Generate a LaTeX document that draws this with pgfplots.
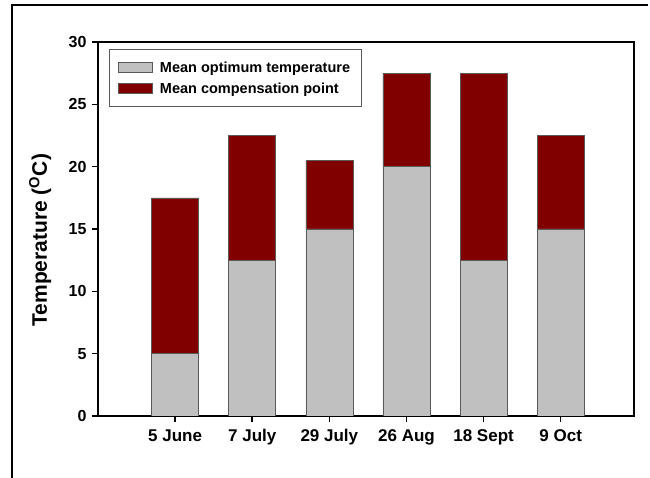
\documentclass[border=0pt]{standalone}
\usepackage{fontspec}
\setmainfont{Liberation Sans}
\usepackage{pgfplots}
\pgfplotsset{compat=1.18}
\definecolor{optgray}{RGB}{192,192,192}
\definecolor{compred}{RGB}{128,0,0}
\definecolor{edgegray}{RGB}{90,90,90}
\begin{document}
\begin{tikzpicture}
\begin{axis}[
  name=ax,
  scale only axis, width=536pt, height=374pt,
  ybar stacked, bar width=47pt,
  xmin=-1.0, xmax=5.95, ymin=0, ymax=30,
  xtick=data,
  xticklabels={5 June,7 July,29 July,26 Aug,18 Sept,9 Oct},
  ytick={0,5,10,15,20,25,30},
  axis line style={line width=2pt},
  tick style={line width=1.5pt, black},
  tick align=outside, major tick length=6pt,
  xtick pos=bottom, ytick pos=left,
  /pgf/number format/assume math mode=true,
  yticklabel style={font=\fontsize{16}{16}\selectfont\bfseries, xshift=-2pt},
  xticklabel style={font=\fontsize{17}{17}\selectfont\bfseries, yshift=-4pt},
  ylabel={Temperature (\textsuperscript{O}C)},
  ylabel style={font=\fontsize{21}{21}\selectfont\bfseries, at={(axis description cs:-0.108,0.47)}, anchor=center},
  legend style={at={(axis description cs:0.0205,0.981)}, anchor=north west,
    draw=edgegray, line width=1pt, font=\fontsize{14.5}{17}\selectfont\bfseries,
    inner xsep=9pt, inner ysep=10pt, row sep=5pt},
  legend cell align=left,
  legend image code/.code={\draw[#1, line width=0.5pt] (0pt,-5pt) rectangle (34pt,5pt); \path (39pt,0pt);},
]
\addplot[fill=optgray, draw=edgegray, line width=0.5pt] coordinates {(0,5) (1,12.5) (2,15) (3,20) (4,12.5) (5,15)};
\addplot[fill=compred, draw=edgegray, line width=0.5pt] coordinates {(0,12.5) (1,10) (2,5.5) (3,7.5) (4,15) (5,7.5)};
\legend{Mean optimum temperature, Mean compensation point}
\end{axis}
\draw[line width=2.2pt] ([shift={(-86pt,-70pt)}]ax.south west) -- ([shift={(-86pt,411pt)}]ax.south west) -- ([shift={(550pt,411pt)}]ax.south west);
\pgfresetboundingbox
\path[use as bounding box] ([shift={(-98pt,-62pt)}]ax.south west) rectangle ([shift={(552pt,416pt)}]ax.south west);
\end{tikzpicture}
\end{document}
